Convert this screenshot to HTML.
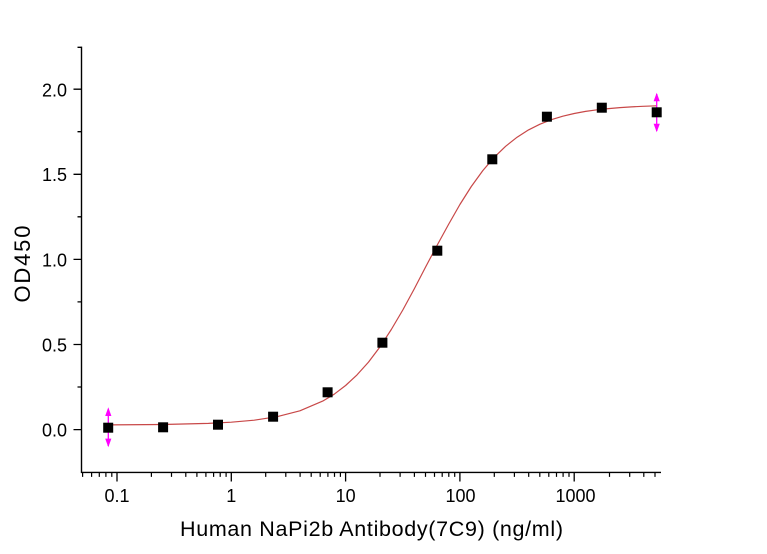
<!DOCTYPE html>
<html>
<head>
<meta charset="utf-8">
<style>
  html,body{margin:0;padding:0;background:#fff;}
  svg{display:block;}
  text{font-family:"Liberation Sans", Arial, sans-serif;fill:#000;}
</style>
</head>
<body>
<svg width="767" height="554" viewBox="0 0 767 554" xmlns="http://www.w3.org/2000/svg">
  <rect width="767" height="554" fill="#fff"/>

  <!-- axes -->
  <path d="M81.5,46.6 V472.4 H661" fill="none" stroke="#000" stroke-width="1.4"/>

  <!-- y ticks -->
  <path d="M73.5,429.6 H81.5 M73.5,344.5 H81.5 M73.5,259.4 H81.5 M73.5,174.3 H81.5 M73.5,89.2 H81.5
           M77.5,387 H81.5 M77.5,301.9 H81.5 M77.5,216.8 H81.5 M77.5,131.7 H81.5 M77.5,47.3 H81.5"
        fill="none" stroke="#000" stroke-width="1.3"/>

  <!-- x major ticks -->
  <path d="M117,472.4 V481.5 M231.3,472.4 V481.5 M345.6,472.4 V481.5 M459.9,472.4 V481.5 M574.2,472.4 V481.5"
        fill="none" stroke="#000" stroke-width="1.3"/>
  <!-- x minor ticks -->
  <path d="M82.6,472.4 v4.5 M91.6,472.4 v4.5 M99.3,472.4 v4.5 M105.9,472.4 v4.5 M111.8,472.4 v4.5
           M151.4,472.4 v4.5 M171.5,472.4 v4.5 M185.8,472.4 v4.5 M196.9,472.4 v4.5 M205.9,472.4 v4.5 M213.6,472.4 v4.5 M220.2,472.4 v4.5 M226.1,472.4 v4.5
           M265.7,472.4 v4.5 M285.8,472.4 v4.5 M300.1,472.4 v4.5 M311.2,472.4 v4.5 M320.2,472.4 v4.5 M327.9,472.4 v4.5 M334.5,472.4 v4.5 M340.4,472.4 v4.5
           M380,472.4 v4.5 M400.1,472.4 v4.5 M414.4,472.4 v4.5 M425.5,472.4 v4.5 M434.5,472.4 v4.5 M442.2,472.4 v4.5 M448.8,472.4 v4.5 M454.7,472.4 v4.5
           M494.3,472.4 v4.5 M514.4,472.4 v4.5 M528.7,472.4 v4.5 M539.8,472.4 v4.5 M548.8,472.4 v4.5 M556.5,472.4 v4.5 M563.1,472.4 v4.5 M569,472.4 v4.5
           M609.5,472.4 v4.5 M629.7,472.4 v4.5 M643.8,472.4 v4.5 M655,472.4 v4.5"
        fill="none" stroke="#000" stroke-width="1.2"/>

  <!-- y tick labels -->
  <g font-size="18" text-anchor="end">
    <text x="67" y="436.5">0.0</text>
    <text x="67" y="351.4">0.5</text>
    <text x="67" y="266.3">1.0</text>
    <text x="67" y="181.2">1.5</text>
    <text x="67" y="96.3">2.0</text>
  </g>

  <!-- x tick labels -->
  <g font-size="18" text-anchor="middle">
    <text x="117" y="502">0.1</text>
    <text x="231.3" y="502">1</text>
    <text x="345.6" y="502">10</text>
    <text x="460.5" y="502">100</text>
    <text x="575.5" y="502">1000</text>
  </g>

  <!-- axis titles -->
  <text x="180" y="536" font-size="21.5" textLength="383" lengthAdjust="spacing">Human NaPi2b Antibody(7C9) (ng/ml)</text>
  <text transform="translate(30,264) rotate(-90)" x="0" y="0" font-size="22" text-anchor="middle" textLength="77" lengthAdjust="spacing">OD450</text>

  <!-- fitted curve -->
  <polyline fill="none" stroke="#c84848" stroke-width="1.2" stroke-linejoin="round"
    points="107.9,424.9 162.7,424.5 208.4,423.4 231.3,422.2 254.2,420.2 277,416.7 299.9,410.8 322.7,401.1 334.2,394.2 345.6,385.5 357,374.9 368.5,362.1 379.9,347 391.3,329.5 402.8,310 414.2,289 425.6,267 437,245.5 448.5,224.5 459.9,204.5 471.3,186.5 482.8,170.6 494.2,157.3 505.6,146.3 517.1,137.2 528.5,129.9 540,124.2 551.3,119.7 562.8,116.2 574.2,113.5 585.6,111.4 597.1,109.8 608.5,108.6 619.9,107.6 631.4,106.9 642.8,106.3 656.5,105.8"/>

  <!-- error bars (magenta) -->
  <g stroke="#ff00ff" stroke-width="1.3" fill="#ff00ff">
    <line x1="108.3" y1="409" x2="108.3" y2="446"/>
    <polygon points="108.3,407.3 105.2,416 111.4,416" stroke="none"/>
    <polygon points="108.3,447.3 105.2,438.6 111.4,438.6" stroke="none"/>
    <line x1="656.7" y1="94" x2="656.7" y2="131"/>
    <polygon points="656.7,92.7 653.6,101.3 659.8,101.3" stroke="none"/>
    <polygon points="656.7,132.3 653.6,123.7 659.8,123.7" stroke="none"/>
  </g>

  <!-- data markers -->
  <g fill="#000">
    <rect x="103.2" y="422.7" width="10" height="10"/>
    <rect x="158.1" y="422.3" width="10" height="10"/>
    <rect x="213" y="419.7" width="10" height="10"/>
    <rect x="268.1" y="411.7" width="10" height="10"/>
    <rect x="322.6" y="387.3" width="10" height="10"/>
    <rect x="377.4" y="337.7" width="10" height="10"/>
    <rect x="432.3" y="245.7" width="10" height="10"/>
    <rect x="487.3" y="154.3" width="10" height="10"/>
    <rect x="541.9" y="111.7" width="10" height="10"/>
    <rect x="596.8" y="102.7" width="10" height="10"/>
    <rect x="651.7" y="107.3" width="10" height="10"/>
  </g>
</svg>
</body>
</html>
